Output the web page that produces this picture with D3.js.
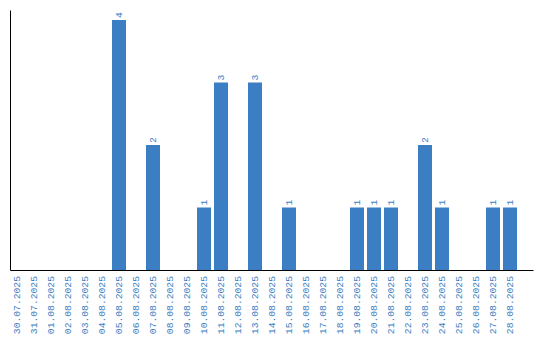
<!DOCTYPE html>
<html>
<head>
<meta charset="utf-8">
<script src="https://cdn.jsdelivr.net/npm/d3@7"></script>
<style>
  body { margin: 0; background: #fff; }
  svg { display: block; }
</style>
</head>
<body>
<script>
// dates shown along the bottom, one bar slot each
var dates = ["30.07.2025","31.07.2025","01.08.2025","02.08.2025","03.08.2025","04.08.2025",
  "05.08.2025","06.08.2025","07.08.2025","08.08.2025","09.08.2025","10.08.2025","11.08.2025",
  "12.08.2025","13.08.2025","14.08.2025","15.08.2025","16.08.2025","17.08.2025","18.08.2025",
  "19.08.2025","20.08.2025","21.08.2025","22.08.2025","23.08.2025","24.08.2025","25.08.2025",
  "26.08.2025","27.08.2025","28.08.2025"];
var counts = [0,0,0,0,0,0,4,0,2,0,0,1,3,0,3,0,1,0,0,0,1,1,1,0,2,1,0,0,1,1];

var width = 540, height = 340;
var blue = "#3b7ec3";
var font = "Liberation Mono, monospace";

var svg = d3.select("body").append("svg")
    .attr("width", width)
    .attr("height", height);

var x = d3.scaleBand()
    .domain(dates)
    .range([10, 533])
    .paddingInner(3 / 17)
    .paddingOuter(8 / 17)
    .align(0);

var y = d3.scaleLinear()
    .domain([0, 4.16])
    .range([270, 10]);

var data = dates.map(function(d, i) { return {date: d, count: counts[i]}; });
var nonzero = data.filter(function(d) { return d.count > 0; });

// bars
svg.selectAll(".bar")
    .data(nonzero)
    .enter()
    .append("rect")
    .attr("class", "bar")
    .attr("x", function(d) { return x(d.date); })
    .attr("y", function(d) { return y(d.count); })
    .attr("width", x.bandwidth())
    .attr("height", function(d) { return y(0) - y(d.count); })
    .attr("fill", blue);

// value labels, rotated
svg.selectAll(".val")
    .data(nonzero)
    .enter()
    .append("text")
    .attr("class", "val")
    .attr("transform", function(d) {
        return "translate(" + (x(d.date) + x.bandwidth() / 2) + "," + (y(d.count) - 2) + ") rotate(-90)";
    })
    .attr("dy", "0.35em")
    .attr("font-family", font)
    .attr("font-size", 9.7)
    .attr("fill", blue)
    .text(function(d) { return d.count; });

// x axis
var xAxis = svg.append("g")
    .attr("transform", "translate(0,270)")
    .call(d3.axisBottom(x).tickSize(0).tickSizeOuter(0));
xAxis.select(".domain").attr("stroke", "#000");
xAxis.selectAll("text")
    .attr("font-family", font)
    .attr("font-size", 9.7)
    .attr("fill", blue)
    .attr("text-anchor", "end")
    .attr("transform", "rotate(-90)")
    .attr("x", -6)
    .attr("y", 0)
    .attr("dy", "0.35em");

// y axis, line only
var yAxis = svg.append("g")
    .attr("transform", "translate(10,0)")
    .call(d3.axisLeft(y).ticks(0).tickSizeOuter(0));
yAxis.select(".domain").attr("stroke", "#000");
</script>
</body>
</html>
